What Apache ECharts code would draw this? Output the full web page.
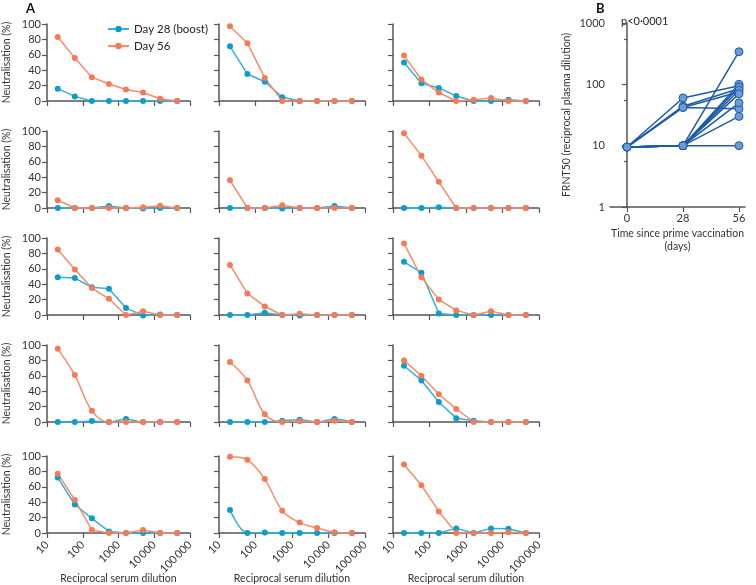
<!DOCTYPE html>
<html>
<head>
<meta charset="utf-8">
<script src="https://cdn.jsdelivr.net/npm/echarts@6/dist/echarts.min.js"></script>
<style>html,body{margin:0;padding:0;background:#fff}#c{width:756px;height:585px}</style>
</head>
<body>
<div id="c"></div>
<script>
// ---- Data ----
const dilutions = [20, 60, 180, 540, 1620, 4860, 14580, 43740];
const xTickLabels = ['10', '100', '1000', '10\u2009000', '100\u2009000'];

const day28 = [
  [16, 6, 0, 0, 0, 0, 0, 0],
  [71, 35, 25, 5, 0, 0, 0, 0],
  [50, 23, 17, 6.5, 0, 0, 1.5, 0],
  [0, 0, 0, 2.5, 0, -0.5, 0, 0],
  [0, 0, 0, -0.5, 0, 0, 2.5, 0],
  [0, 0, 1, 0, 0, 0, 0, 0],
  [49, 48, 36, 34, 9, -0.5, 0.5, 0],
  [0, 0, 3, 0, -0.5, 0, 0, 0],
  [69, 55, 2, 0, 0, 0, 0, 0],
  [0, 0, 1.3, 0, 4, 0, 0, 0],
  [0, 0, 0, 1.5, 3, 0, 4, 0],
  [73, 54, 26, 5, 1.5, 0, 0, 0],
  [72, 37, 19, 2, 0, 0, 0, 0],
  [30, 0, 0.5, 0, 0, 0, 0, 0],
  [0, 0, 0, 6, 0, 6, 5.5, 0]
];
const day56 = [
  [83, 56, 31, 22, 15, 11, 3, 0],
  [97, 75, 30, 0, 0, 0, 0, 0],
  [59, 28, 11, 0, 1.5, 4, 0, 0],
  [10, 0, 0, 0, 0, 1, 3, 0],
  [36, 0, 0, 3.5, 0, 0, 0, 0],
  [97, 68, 34, 0, 0, 0, 0, 0],
  [85, 59, 35, 21, 0, 5, 0, 0],
  [65, 28, 11, 0, 1.5, 0, 0, 0],
  [93, 49, 20, 6, 0, 5, 0, 0],
  [95, 61, 14.5, 0, 0, 0, 0, 0],
  [78, 54, 10, 0, 1, 0, 1.5, 0],
  [80, 60, 36, 17, 0, 0, 0, 0],
  [77, 43, 4, 0, 0, 4, 0, 0],
  [99, 95, 70, 29, 13.5, 6.5, 1, 0],
  [89, 62, 28, 0, 0, 0, 1, 0]
];

// Panel B
const timeDays = [0, 28, 56];
const frntDay0  = [9.5, 9.5, 9.5, 9.5, 9.5, 9.5, 9.5, 9.5, 9.5, 9.5, 9.5, 9.5];
const frntDay28 = [60, 44, 42, 42, 10, 10, 10, 10, 10, 10, 10, 10];
const frntDay56 = [95, 85, 40, 75, 340, 100, 90, 80, 70, 50, 30, 10];
const yTickLabelsB = ['1', '10', '100', '1000'];

// ---- Style / layout ----
const FONT = 'Lato';
const BLUE_LINE = '#35b0d9', BLUE_DOT = '#0e9dca';
const ORANGE_LINE = '#f58c6b', ORANGE_DOT = '#f47b59';
const AXIS_COL = '#555';
const TXT = '#333';
const lefts = [44, 219, 393];
const tops = [24, 131, 238, 345, 456];
const PW = 146, PH = 77;
const smoothPanels = [9, 10, 13];

const grids = [], xAxes = [], yAxes = [], series = [];
for (let i = 0; i < 15; i++) {
  const r = Math.floor(i / 3), c = i % 3;
  grids.push({ left: lefts[c], top: tops[r], width: PW, height: PH, containLabel: false });
  xAxes.push({
    gridIndex: i, type: 'log', logBase: 10, min: 10, max: 100000,
    axisLine: { lineStyle: { color: AXIS_COL, width: 1.5 } },
    axisTick: { show: true, length: 5, lineStyle: { color: AXIS_COL, width: 1.2 } },
    splitLine: { show: false },
    axisLabel: {
      show: r === 4, rotate: 45, fontFamily: FONT, fontSize: 11, color: TXT, margin: 10,
      formatter: v => xTickLabels[Math.round(Math.log10(v)) - 1]
    },
    name: r === 4 ? 'Reciprocal serum dilution' : '',
    nameLocation: 'middle', nameGap: 40, nameMoveOverlap: false,
    nameTextStyle: { fontFamily: FONT, fontSize: 10.5, color: TXT }
  });
  yAxes.push({
    gridIndex: i, type: 'value', min: 0, max: 100, interval: 20,
    axisLine: { show: true, lineStyle: { color: AXIS_COL, width: 1.5 } },
    axisTick: { show: true, length: 5, lineStyle: { color: AXIS_COL, width: 1.2 } },
    splitLine: { show: false },
    axisLabel: { show: c === 0, fontFamily: FONT, fontSize: 11, color: TXT, margin: 6 },
    name: c === 0 ? 'Neutralisation (%)' : '',
    nameLocation: 'middle', nameGap: 35, nameRotate: 90, nameMoveOverlap: false,
    nameTextStyle: { fontFamily: FONT, fontSize: 10.5, color: TXT }
  });
  const sm = smoothPanels.includes(i) ? 0.35 : false;
  series.push({
    name: 'Day 28 (boost)', type: 'line', xAxisIndex: i, yAxisIndex: i,
    data: dilutions.map((d, k) => [d, day28[i][k]]),
    symbol: 'circle', symbolSize: 6, smooth: sm, clip: false,
    lineStyle: { color: BLUE_LINE, width: 1.5 },
    itemStyle: { color: BLUE_DOT }
  });
  series.push({
    name: 'Day 56', type: 'line', xAxisIndex: i, yAxisIndex: i,
    data: dilutions.map((d, k) => [d, day56[i][k]]),
    symbol: 'circle', symbolSize: 6, smooth: sm, clip: false,
    lineStyle: { color: ORANGE_LINE, width: 1.5 },
    itemStyle: { color: ORANGE_DOT }
  });
}

// Panel B grid
const bi = 15;
grids.push({ left: 610, top: 23, width: 135, height: 184 });
xAxes.push({
  gridIndex: bi, type: 'value', min: -8.5, max: 59,
  axisLine: { lineStyle: { color: AXIS_COL, width: 1.5 } },
  axisTick: { show: true, length: 5, customValues: timeDays, lineStyle: { color: AXIS_COL, width: 1.2 } },
  axisLabel: { customValues: timeDays, fontFamily: FONT, fontSize: 11, color: TXT, margin: 6 },
  splitLine: { show: false },
  name: 'Time since prime vaccination\n(days)', nameLocation: 'middle', nameGap: 20, nameMoveOverlap: false,
  nameTextStyle: { fontFamily: FONT, fontSize: 10.5, color: TXT, lineHeight: 13, verticalAlign: 'top' }
});
yAxes.push({
  gridIndex: bi, type: 'log', logBase: 10, min: 1, max: 1000,
  axisLine: { show: true, lineStyle: { color: AXIS_COL, width: 1.5 } },
  axisTick: { show: true, length: 5, lineStyle: { color: AXIS_COL, width: 1.2 } },
  minorTick: { show: true, splitNumber: 2, length: 3, lineStyle: { color: AXIS_COL, width: 1.2 } },
  splitLine: { show: false }, minorSplitLine: { show: false },
  axisLabel: { fontFamily: FONT, fontSize: 11, color: TXT, margin: 5,
    formatter: v => yTickLabelsB[Math.round(Math.log10(v))] },
  name: 'FRNT50 (reciprocal plasma dilution)', nameLocation: 'middle', nameGap: 38, nameRotate: 90,
  nameMoveOverlap: false,
  nameTextStyle: { fontFamily: FONT, fontSize: 10.5, color: TXT }
});
for (let p = 0; p < frntDay0.length; p++) {
  series.push({
    name: 'participant' + (p + 1), type: 'line', xAxisIndex: bi, yAxisIndex: bi,
    data: [[timeDays[0], frntDay0[p]], [timeDays[1], frntDay28[p]], [timeDays[2], frntDay56[p]]],
    symbol: 'circle', symbolSize: 8, clip: false,
    lineStyle: { color: '#1d5ba8', width: 1.5 },
    itemStyle: { color: '#6b9bd8', borderColor: '#1d5ba8', borderWidth: 1 }
  });
}

const option = {
  animation: false,
  backgroundColor: '#fff',
  grid: grids, xAxis: xAxes, yAxis: yAxes, series: series,
  legend: {
    data: ['Day 28 (boost)', 'Day 56'], orient: 'vertical', left: 102, top: 18,
    itemWidth: 21, itemHeight: 8, itemGap: 5,
    textStyle: { fontFamily: FONT, fontSize: 11.5, color: '#222' }
  },
  graphic: [
    { type: 'text', left: 26, top: 2, style: { text: 'A', font: 'bold 13px ' + FONT, fill: '#111' } },
    { type: 'text', left: 596, top: 2, style: { text: 'B', font: 'bold 13px ' + FONT, fill: '#111' } },
    { type: 'text', left: 621, top: 16, style: { text: 'p<0\u00b70001', font: '11px ' + FONT, fill: '#222' } }
  ]
};
echarts.init(document.getElementById('c'), null, { renderer: 'canvas' }).setOption(option);
</script>
</body>
</html>
